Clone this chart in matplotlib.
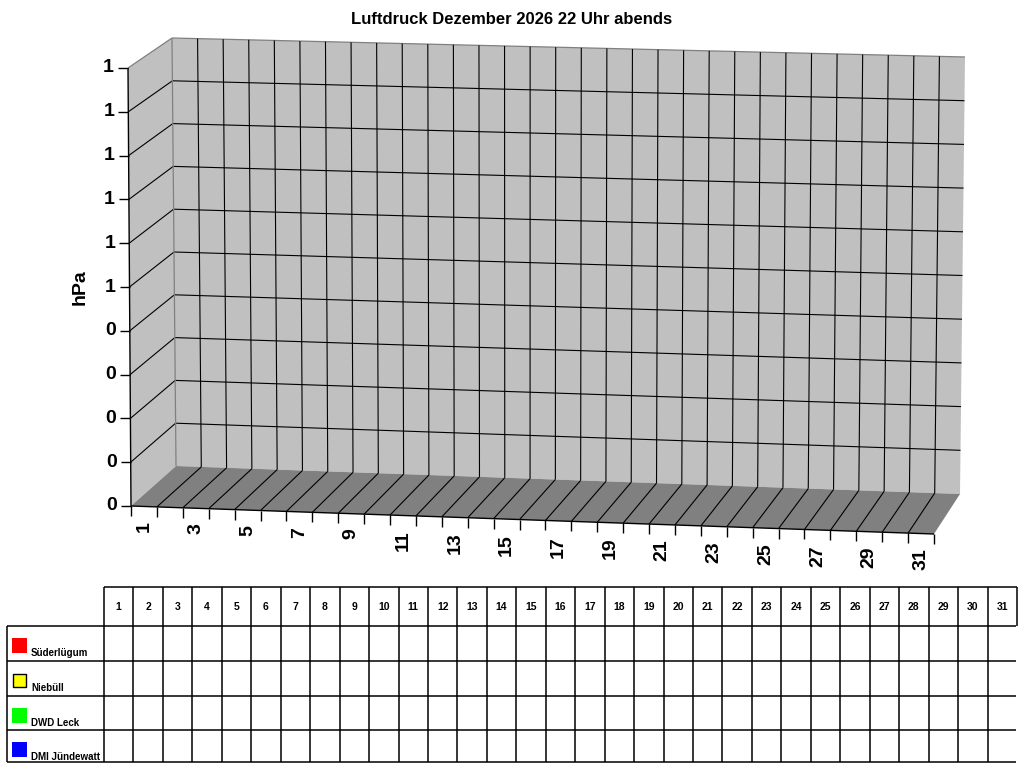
import numpy as np
import matplotlib
matplotlib.use('Agg')
import matplotlib.pyplot as plt
from matplotlib.patches import Polygon, Rectangle

# data
days = list(range(1, 32))
day_labels = [str(d) if d % 2 else '' for d in days]
levels = [0.0, 0.1, 0.2, 0.3, 0.4, 0.5, 0.6, 0.7, 0.8, 0.9, 1.0]
level_labels = ['0', '0', '0', '0', '0', '1', '1', '1', '1', '1', '1']
stations = ['Süderlügum', 'Niebüll', 'DWD Leck', 'DMI Jündewatt']
station_colors = ['#FF0000', '#FFFF00', '#00FF00', '#0000FF']
# no readings yet for this month
suederluegum = [np.nan] * 31
niebuell = [np.nan] * 31
dwd_leck = [np.nan] * 31
dmi_juendewatt = [np.nan] * 31
series = [suederluegum, niebuell, dwd_leck, dmi_juendewatt]

title = 'Luftdruck Dezember 2026 22 Uhr abends'
ylabel = 'hPa'

#%% box geometry (pixels)
FRONT = {'bl': (131, 506), 'br': (934, 534), 'tl': (128, 68), 'tr': (938, 97)}
BACK = {'bl': (176, 466), 'br': (960, 494), 'tl': (172, 38), 'tr': (965, 57)}


def bilin(c, u, v):
    bl, br, tl, tr = (np.array(c[k], float) for k in ('bl', 'br', 'tl', 'tr'))
    bot = bl + (br - bl) * u
    top = tl + (tr - tl) * u
    return bot + (top - bot) * v


def proj(day_pos, value, w):
    u = day_pos / len(days)
    v = (value - levels[0]) / (levels[-1] - levels[0])
    return bilin(FRONT, u, v) * (1 - w) + bilin(BACK, u, v) * w


fig = plt.figure(figsize=(10.24, 7.68), dpi=100)
ax = fig.add_axes([0, 0, 1, 1])
ax.set_xlim(0, 1024)
ax.set_ylim(768, 0)
ax.axis('off')

bold = dict(family=['Liberation Sans', 'DejaVu Sans'], weight='bold')

n = len(days)
lo, hi = levels[0], levels[-1]
wall = '#C0C0C0'
floor = '#808080'
edge = '#808080'

# walls and floor
ax.add_patch(Polygon([proj(0, lo, 0), proj(0, hi, 0), proj(0, hi, 1), proj(0, lo, 1)],
                     closed=True, fc=wall, ec='none'))
ax.add_patch(Polygon([proj(0, lo, 1), proj(n, lo, 1), proj(n, hi, 1), proj(0, hi, 1)],
                     closed=True, fc=wall, ec='none'))
ax.add_patch(Polygon([proj(0, lo, 0), proj(n, lo, 0), proj(n, lo, 1), proj(0, lo, 1)],
                     closed=True, fc=floor, ec='none'))


def seg(p, q, **kw):
    ax.plot([p[0], q[0]], [p[1], q[1]], solid_capstyle='butt', **kw)


# horizontal gridlines
for lv in levels[1:-1]:
    seg(proj(0, lv, 0), proj(0, lv, 1), color='black', lw=0.8)
    seg(proj(0, lv, 1), proj(n, lv, 1), color='black', lw=0.8)
seg(proj(0, hi, 0), proj(0, hi, 1), color=edge, lw=0.9)
seg(proj(0, hi, 1), proj(n, hi, 1), color=edge, lw=0.9)

# vertical gridlines on back wall and floor
seg(proj(0, lo, 1), proj(0, hi, 1), color=edge, lw=0.9)
for i in range(1, n):
    seg(proj(i, lo, 1), proj(i, hi, 1), color='black', lw=0.8)
    seg(proj(i, lo, 0), proj(i, lo, 1), color='black', lw=0.8)

# axes lines
seg(proj(0, lo, 0), proj(0, hi, 0), color='black', lw=1.0)
seg(proj(0, lo, 0), proj(n, lo, 0), color='black', lw=1.0)

# y ticks + labels
for lv, lab in zip(levels, level_labels):
    p = proj(0, lv, 0)
    seg(p, p + np.array([-10, 0]), color='black', lw=1.0)
    ax.text(p[0] - 14, p[1], lab, ha='right', va='center', fontsize=14, **bold)

# x ticks + labels
for i in range(n + 1):
    p = proj(i, lo, 0)
    seg(p, p + np.array([0, 10]), color='black', lw=1.0)
for i, lab in enumerate(day_labels):
    if lab:
        p = proj(i + 0.5, lo, 0)
        ax.text(p[0], p[1] + 15, lab, rotation=90, ha='center', va='top',
                fontsize=14, **bold)

# series (bars in the box), none recorded
for k, vals in enumerate(series):
    for i, val in enumerate(vals):
        if np.isfinite(val):
            ax.add_patch(Polygon([proj(i + 0.2, lo, 0.5), proj(i + 0.8, lo, 0.5),
                                  proj(i + 0.8, val, 0.5), proj(i + 0.2, val, 0.5)],
                                 closed=True, fc=station_colors[k], ec='black', lw=0.5))

ax.text(80, 287, ylabel, rotation=90, ha='center', va='center', fontsize=14, **bold)
ax.text(512, 20, title, ha='center', va='center', fontsize=12, **bold)

#%% table
tx0, tx1, lab_x1 = 7, 1017, 104
col_edges = [lab_x1 + (tx1 - lab_x1) * j / n for j in range(n + 1)]
head_top, head_bot = 587, 626
row_edges = [626, 661, 696, 730, 762]
tlw = 1.1

seg((lab_x1, head_top), (tx1, head_top), color='black', lw=tlw)
for x in col_edges:
    seg((x, head_top), (x, head_bot), color='black', lw=tlw)
for y in row_edges:
    seg((tx0, y), (tx1 - 1, y), color='black', lw=tlw)
for x in [tx0] + col_edges[:-1]:
    seg((x, row_edges[0]), (x, row_edges[-1]), color='black', lw=tlw)

for j, d in enumerate(days):
    xc = (col_edges[j] + col_edges[j + 1]) / 2
    ax.text(xc, (head_top + head_bot) / 2, str(d), ha='center', va='center',
            fontsize=7.5, **bold)

for r, (name, col) in enumerate(zip(stations, station_colors)):
    top = row_edges[r]
    if col == '#FFFF00':
        ax.add_patch(Rectangle((13, top + 13), 13, 13, fc=col, ec='black', lw=1.0))
    else:
        ax.add_patch(Rectangle((12, top + 12), 15, 15, fc=col, ec='none'))
    ax.text(31, top + 30, name, ha='left', va='baseline', fontsize=7, **bold)

fig.savefig('out.png', dpi=100)
